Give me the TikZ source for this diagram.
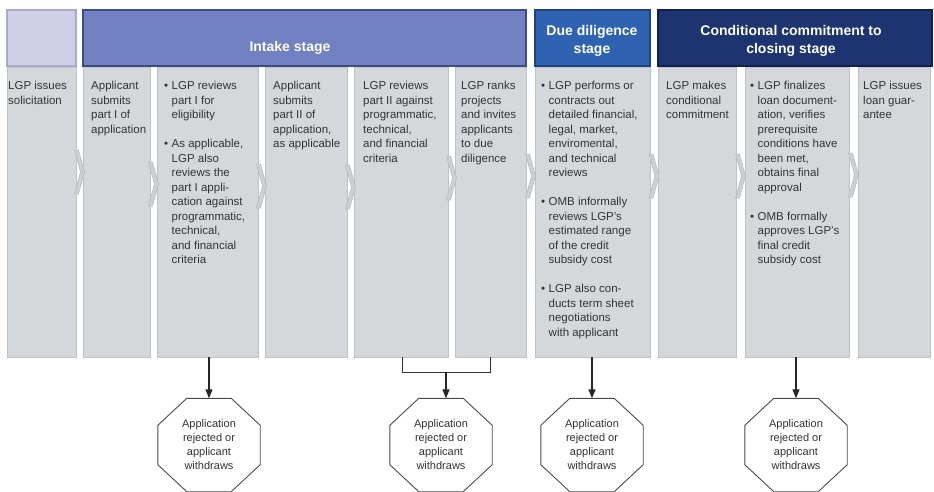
\documentclass[tikz,border=0pt]{standalone}
\usepackage{fontspec}
\setmainfont{Liberation Sans}
\usetikzlibrary{arrows.meta,calc}
\definecolor{lav}{HTML}{CFD0E8}
\definecolor{lavline}{HTML}{A9AACB}
\definecolor{intake}{HTML}{7080C0}
\definecolor{intakeline}{HTML}{3C4C86}
\definecolor{due}{HTML}{2F63B2}
\definecolor{dueline}{HTML}{1C447F}
\definecolor{cond}{HTML}{1D3470}
\definecolor{condline}{HTML}{101F4E}
\definecolor{colfill}{HTML}{D5D8DB}
\definecolor{colline}{HTML}{BFC2C5}
\definecolor{txtcol}{HTML}{333333}
\definecolor{chevfill}{HTML}{CDD0D3}
\definecolor{chevline}{HTML}{B4B7BA}
\newcommand{\bl}{\makebox[7.5pt][l]{\textbullet}}
\newcommand{\ind}{\hspace*{7.5pt}}
\begin{document}
\begin{tikzpicture}[x=1pt,y=-1pt,
  colbox/.style={draw=colline,fill=colfill,line width=0.8pt,inner sep=0pt,outer sep=0pt,anchor=north west,minimum height=290pt},
  hdr/.style={line width=1.2pt,inner sep=0pt,outer sep=0pt,anchor=north west,minimum height=56pt},
  hdtxt/.style={text=white,align=center,font=\fontsize{14}{18}\selectfont\bfseries,inner sep=0pt},
  txt/.style={anchor=north west,align=left,inner sep=0pt,text=txtcol,font=\fontsize{11.5}{14.5}\selectfont},
  octxt/.style={minimum width=102pt,minimum height=93pt,align=center,inner sep=0pt,text=txtcol,font=\fontsize{11}{14}\selectfont},
  octline/.style={draw=black!70,line width=0.9pt},
  arr/.style={draw=black!85,line width=1.4pt,-{Triangle[width=7pt,length=9pt]}},
  brk/.style={draw=black!80,line width=0.9pt},
  chev/.style={fill=chevfill,draw=chevline,line width=0.5pt}]
\fill[white] (0,0) rectangle (934,492);
\useasboundingbox (0,0) rectangle (934,492);

% headers
\node[hdr,fill=lav,draw=lavline,minimum width=69pt] (h0) at (7,10) {};
\node[hdr,fill=intake,draw=intakeline,minimum width=443pt] (h1) at (83,10) {};
\node[hdr,fill=due,draw=dueline,minimum width=115pt] (h2) at (535,10) {};
\node[hdr,fill=cond,draw=condline,minimum width=274pt] (h3) at (658,10) {};
\node[hdtxt] (l1) at (290,48) {Intake stage};
\node[hdtxt] (l2) at (592,41) {Due diligence\\stage};
\node[hdtxt] (l3) at (791,41) {Conditional commitment to\\closing stage};

% columns
\node[colbox,minimum width=69pt] (c1) at (7,67) {};
\node[colbox,minimum width=67pt] (c2) at (83,67) {};
\node[colbox,minimum width=101pt] (c3) at (157,67) {};
\node[colbox,minimum width=82pt] (c4) at (265,67) {};
\node[colbox,minimum width=94pt] (c5) at (354,67) {};
\node[colbox,minimum width=71pt] (c6) at (455,67) {};
\node[colbox,minimum width=115pt] (c7) at (535,67) {};
\node[colbox,minimum width=78pt] (c8) at (658,67) {};
\node[colbox,minimum width=104pt] (c9) at (745,67) {};
\node[colbox,minimum width=72pt] (c10) at (858,67) {};

% chevrons between columns
\foreach \gx/\gy in {79.5/172,153.5/184,261.5/186,350.5/187,451.5/178,530.5/176,654/176,740.5/176,853.5/175}
  \draw[chev] ({\gx-5},{\gy-22}) -- ({\gx-1},{\gy-22}) -- ({\gx+5},\gy) -- ({\gx-1},{\gy+22}) -- ({\gx-5},{\gy+22}) -- ({\gx+1},\gy) -- cycle;

% column texts
\node[txt] (t1) at (8,81) {LGP issues\\solicitation};
\node[txt] (t2) at (91,81) {Applicant\\submits\\part I of\\application};
\node[txt] (t3) at (164,81) {\bl LGP reviews\\\ind part I for\\\ind eligibility\\[14.5pt]\bl As applicable,\\\ind LGP also\\\ind reviews the\\\ind part I appli-\\\ind cation against\\\ind programmatic,\\\ind technical,\\\ind and financial\\\ind criteria};
\node[txt] (t4) at (273,81) {Applicant\\submits\\part II of\\application,\\as applicable};
\node[txt] (t5) at (363,81) {LGP reviews\\part II against\\programmatic,\\technical,\\and financial\\criteria};
\node[txt] (t6) at (461,81) {LGP ranks\\projects\\and invites\\applicants\\to due\\diligence};
\node[txt] (t7) at (541,81) {\bl LGP performs or\\\ind contracts out\\\ind detailed financial,\\\ind legal, market,\\\ind enviromental,\\\ind and technical\\\ind reviews\\[14.5pt]\bl OMB informally\\\ind reviews LGP's\\\ind estimated range\\\ind of the credit\\\ind subsidy cost\\[14.5pt]\bl LGP also con-\\\ind ducts term sheet\\\ind negotiations\\\ind with applicant};
\node[txt] (t8) at (666,81) {LGP makes\\conditional\\commitment};
\node[txt] (t9) at (750,81) {\bl LGP finalizes\\\ind loan document-\\\ind ation, verifies\\\ind prerequisite\\\ind conditions have\\\ind been met,\\\ind obtains final\\\ind approval\\[14.5pt]\bl OMB formally\\\ind approves LGP's\\\ind final credit\\\ind subsidy cost};
\node[txt] (t10) at (863,81) {LGP issues\\loan guar-\\antee};

% octagons
\node[octxt] (o1) at (209,445) {Application\\rejected or\\applicant\\withdraws};
\node[octxt] (o2) at (441,445) {Application\\rejected or\\applicant\\withdraws};
\node[octxt] (o3) at (592,445) {Application\\rejected or\\applicant\\withdraws};
\node[octxt] (o4) at (796,445) {Application\\rejected or\\applicant\\withdraws};
\foreach \o in {o1,o2,o3,o4}
  \draw[octline] ($(\o.north west)+(29,0)$) -- ($(\o.north east)+(-29,0)$) -- ($(\o.north east)+(0,27)$) -- ($(\o.south east)+(0,-27)$) -- ($(\o.south east)+(-29,0)$) -- ($(\o.south west)+(29,0)$) -- ($(\o.south west)+(0,-27)$) -- ($(\o.north west)+(0,27)$) -- cycle;

% connectors
\draw[arr] (o1.north |- c3.south) -- (o1.north);
\coordinate (b1) at (402,372);
\coordinate (b2) at (490,372);
\coordinate (bm) at (446,372);
\draw[brk] (b1 |- c5.south) -- (b1) -- (b2) -- (b2 |- c6.south);
\draw[arr] (bm) -- (bm |- o2.north);
\draw[arr] (o3.north |- c7.south) -- (o3.north);
\draw[arr] (o4.north |- c9.south) -- (o4.north);
\end{tikzpicture}
\end{document}
